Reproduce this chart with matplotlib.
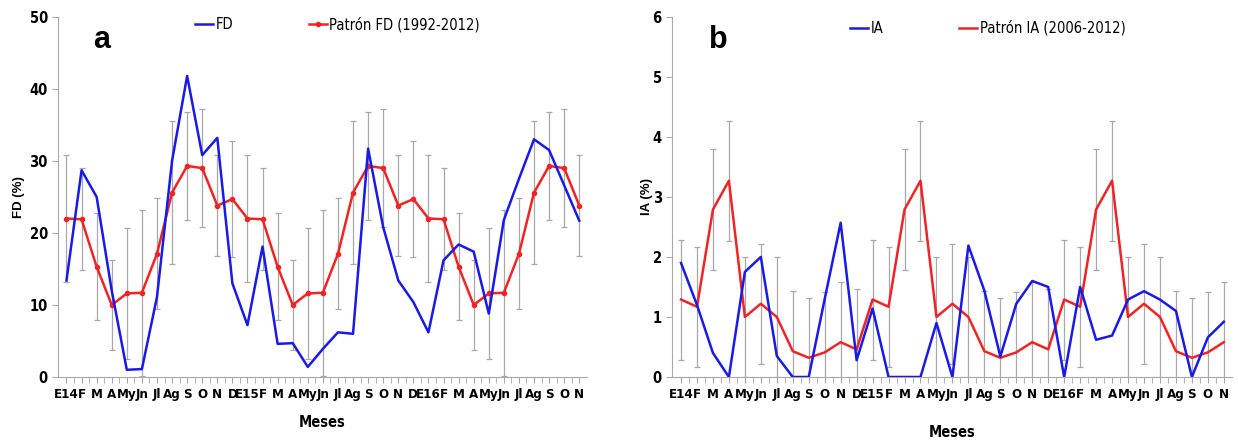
import numpy as np
import matplotlib
matplotlib.use("Agg")
import matplotlib.pyplot as plt

meses = ["E14", "F", "M", "A", "My", "Jn", "Jl", "Ag", "S", "O", "N", "D",
         "E15", "F", "M", "A", "My", "Jn", "Jl", "Ag", "S", "O", "N", "D",
         "E16", "F", "M", "A", "My", "Jn", "Jl", "Ag", "S", "O", "N"]

# panel a: FD (%)
fd = [13.4, 28.7, 25.0, 12.0, 1.0, 1.1, 11.1, 30.0, 41.8, 30.8, 33.2, 13.0,
      7.2, 18.1, 4.6, 4.7, 1.4, 3.9, 6.2, 6.0, 31.7, 20.8, 13.4, 10.4,
      6.2, 16.2, 18.4, 17.4, 8.8, 21.8, 27.5, 33.0, 31.5, 26.6, 21.7]
patron_fd = [22.0, 21.9, 15.3, 10.0, 11.6, 11.7, 17.1, 25.6, 29.3, 29.0, 23.8, 24.7]
sd_fd = [8.8, 7.1, 7.4, 6.3, 9.1, 11.5, 7.7, 9.9, 7.5, 8.2, 7.0, 8.0]

# panel b: IA (%)
ia = [1.9, 1.2, 0.4, 0.0, 1.75, 2.0, 0.35, 0.0, 0.0, 1.3, 2.57, 0.28,
      1.14, 0.0, 0.0, 0.0, 0.9, 0.0, 2.19, 1.44, 0.34, 1.22, 1.6, 1.5,
      0.0, 1.5, 0.62, 0.69, 1.29, 1.43, 1.29, 1.1, 0.0, 0.66, 0.92]
patron_ia = [1.29, 1.17, 2.79, 3.27, 1.0, 1.22, 1.0, 0.43, 0.32, 0.41, 0.58, 0.46]
sd_ia = [1.0, 1.0, 1.0, 1.0, 1.0, 1.0, 1.0, 1.0, 1.0, 1.0, 1.0, 1.0]

cond = dict(family="DejaVu Sans", stretch="condensed")
blue = "#1a1ae6"
red = "#f02424"
grey = "#a8a8a8"

fig = plt.figure(figsize=(12.38, 4.43), dpi=100)
ax_a = fig.add_axes([0.047, 0.149, 0.427, 0.813])
ax_b = fig.add_axes([0.543, 0.149, 0.452, 0.813])


def draw_panel(ax, serie, patron, sd, ymax, ylabel, lab_serie, lab_patron, letra,
               marker, leg_x, leg_y, xlab_pad, ylab_pad):
    x = np.arange(len(meses))
    n = len(meses)
    pat = np.tile(patron, 3)[:n]
    err = np.tile(sd, 3)[:n]
    ax.errorbar(x, pat, yerr=err, fmt="none", ecolor=grey, elinewidth=0.9,
                capsize=2, capthick=0.9, zorder=1)
    ax.plot(x, serie, color=blue, lw=1.8, label=lab_serie, zorder=3)
    ax.plot(x, pat, color=red, lw=1.8, marker=marker, ms=3, label=lab_patron, zorder=2)
    ax.set_xlim(-0.55, n - 0.5)
    ax.set_ylim(0, ymax)
    ax.set_xticks(x)
    ax.set_xticks(x[:-1] + 0.5, minor=True)
    ax.set_xticklabels(meses, fontweight="bold", fontsize=9.5, **cond)
    for lab in ax.get_yticklabels():
        lab.set_family("DejaVu Sans")
        lab.set_stretch("condensed")
        lab.set_fontweight("bold")
        lab.set_fontsize(10.5)
    ax.tick_params(axis="x", which="both", length=4, color=grey, pad=4)
    ax.tick_params(axis="y", length=4, color=grey)
    for s in ["top", "right"]:
        ax.spines[s].set_visible(False)
    for s in ["left", "bottom"]:
        ax.spines[s].set_color(grey)
    ax.set_ylabel(ylabel, fontweight="bold", fontsize=9.5, family="Liberation Sans",
                  labelpad=ylab_pad)
    ax.set_xlabel("Meses", fontweight="bold", fontsize=10.5, labelpad=xlab_pad, **cond)
    ax.text(0.082, 0.936, letra, transform=ax.transAxes, fontsize=22, fontweight="bold",
            family="Liberation Sans", va="center", ha="center")
    ax.legend(loc="upper left", bbox_to_anchor=(leg_x, leg_y), ncol=2, frameon=False,
              prop={"family": "DejaVu Sans", "stretch": "condensed", "size": 10.5},
              handlelength=1.25, handletextpad=0.15, columnspacing=5.2,
              borderpad=0, borderaxespad=0)


draw_panel(ax_a, fd, patron_fd, sd_fd, 50, "FD (%)", "FD", "Patrón FD (1992-2012)", "a",
           "o", 0.259, 1.0, 10, 3)
draw_panel(ax_b, ia, patron_ia, sd_ia, 6, "IA (%)", "IA", "Patrón IA (2006-2012)", "b",
           None, 0.318, 0.99, 17, 0)

fig.savefig("out.png", dpi=100)
